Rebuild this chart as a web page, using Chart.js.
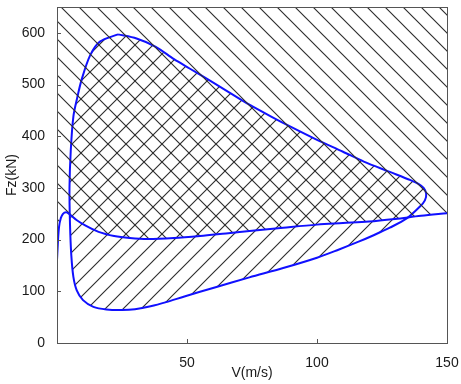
<!DOCTYPE html>
<html>
<head>
<meta charset="utf-8">
<script src="https://cdn.jsdelivr.net/npm/chart.js@4/dist/chart.umd.min.js"></script>
<style>
  body { margin: 0; background: #fff; }
  #wrap { width: 461px; height: 384px; }
</style>
</head>
<body>
<div id="wrap"><canvas id="fz" width="461" height="384"></canvas></div>
<script>
// lower boundary line (region above it is hatched "\\")
const lineV = [0, 0.4, 0.8, 1.5, 2.3, 3.5, 5, 7.5, 11, 16, 22, 28, 35, 45, 55, 65, 75, 87, 100, 110, 120, 130, 140, 150];
const lineFz = [160, 200, 225, 242, 250, 253, 248, 238, 227, 215, 207, 203, 201, 203, 207, 212, 217, 223, 229, 232, 235, 240, 246, 251];

// closed envelope (inside hatched "//")
const loopV = [23.5, 16.5, 12.7, 9.5, 7.8, 6.3, 5.3, 4.8, 5.0, 5.5, 6.3, 7.6, 10, 14, 19, 25, 30, 36, 42, 49, 61, 74, 87, 100, 108, 116, 122, 128, 134.5, 139.6, 141.5, 142, 141, 139, 136, 128, 118, 110, 100, 90, 82, 74, 66.5, 59, 51, 45, 38, 30.6, 23.5];
const loopFz = [597, 583, 556, 510, 475, 438, 373, 300, 230, 170, 128, 102, 83, 70, 65, 64, 65.5, 71, 79, 90, 108, 127, 145, 165, 180, 196, 209, 223, 241, 264, 276, 289, 300, 308, 315, 331, 351, 370, 393, 418, 439, 461, 484, 507, 531, 549, 573, 589, 597];

const xTicks = [50, 100, 150];
const yTicks = [0, 100, 200, 300, 400, 500, 600];

const blue = '#1010ff';
const axisColor = '#555';
const font = { family: "'Liberation Sans', Arial, sans-serif", size: 14 };

function hatch(dir) {
    const s = 18;
    const c = document.createElement('canvas');
    c.width = s; c.height = s;
    const g = c.getContext('2d');
    g.strokeStyle = '#2e2e2e';
    g.lineWidth = 1.15;
    g.beginPath();
    if (dir === 'back') {
        g.moveTo(0, 0); g.lineTo(s, s);
        g.moveTo(-2, s - 2); g.lineTo(2, s + 2);
        g.moveTo(s - 2, -2); g.lineTo(s + 2, 2);
    } else {
        g.moveTo(0, s); g.lineTo(s, 0);
        g.moveTo(-2, 2); g.lineTo(2, -2);
        g.moveTo(s - 2, s + 2); g.lineTo(s + 2, s - 2);
    }
    g.stroke();
    return g.createPattern(c, 'repeat');
}

const frame = {
    id: 'frame',
    afterDraw(chart) {
        const { ctx, chartArea: a, scales } = chart;
        ctx.save();
        ctx.strokeStyle = axisColor;
        ctx.lineWidth = 1;
        ctx.strokeRect(a.left + 0.5, a.top + 0.5, a.right - a.left, a.bottom - a.top);
        ctx.beginPath();
        for (const v of yTicks) {
            const p = Math.round(scales.y.getPixelForValue(v)) + 0.5;
            ctx.moveTo(a.left, p); ctx.lineTo(a.left + 4, p);
        }
        for (const v of xTicks) {
            const p = Math.round(scales.x.getPixelForValue(v)) + 0.5;
            ctx.moveTo(p, a.bottom); ctx.lineTo(p, a.bottom - 4);
        }
        ctx.stroke();
        ctx.restore();
    }
};

function noPad(s) {
    s.paddingTop = 0; s.paddingBottom = 0; s.paddingLeft = 0; s.paddingRight = 0;
}

new Chart(document.getElementById('fz'), {
    type: 'line',
    data: {
        datasets: [{
            data: lineV.map((v, i) => ({ x: v, y: lineFz[i] })),
            borderColor: blue,
            borderWidth: 2,
            pointRadius: 0,
            cubicInterpolationMode: 'monotone',
            fill: 'end',
            backgroundColor: hatch('back')
        }, {
            data: loopV.map((v, i) => ({ x: v, y: loopFz[i] })),
            borderColor: blue,
            borderWidth: 2,
            pointRadius: 0,
            tension: 0.3,
            fill: 'shape',
            backgroundColor: hatch('fwd')
        }]
    },
    options: {
        responsive: false,
        animation: false,
        layout: { padding: { top: 7, right: 14, left: 0, bottom: 0 } },
        plugins: { legend: { display: false }, tooltip: { enabled: false } },
        scales: {
            x: {
                type: 'linear',
                min: 0, max: 150,
                afterBuildTicks: s => { s.ticks = xTicks.map(v => ({ value: v })); },
                afterFit: s => { s.height = 41; noPad(s); },
                grid: { display: false },
                border: { display: true, color: axisColor },
                ticks: { font, color: '#1a1a1a', padding: 4, maxRotation: 0 },
                title: { display: true, text: 'V(m/s)', font, color: '#1a1a1a', padding: { top: 2, bottom: 2 } }
            },
            y: {
                min: 0, max: 650,
                afterBuildTicks: s => { s.ticks = yTicks.map(v => ({ value: v })); },
                afterFit: s => { s.width = 57; noPad(s); },
                grid: { display: false },
                border: { display: true, color: axisColor },
                ticks: { font, color: '#1a1a1a', padding: 4 },
                title: { display: true, text: 'Fz(kN)', font, color: '#1a1a1a', padding: { top: 4, bottom: 0 } }
            }
        }
    },
    plugins: [frame]
});
</script>
</body>
</html>
